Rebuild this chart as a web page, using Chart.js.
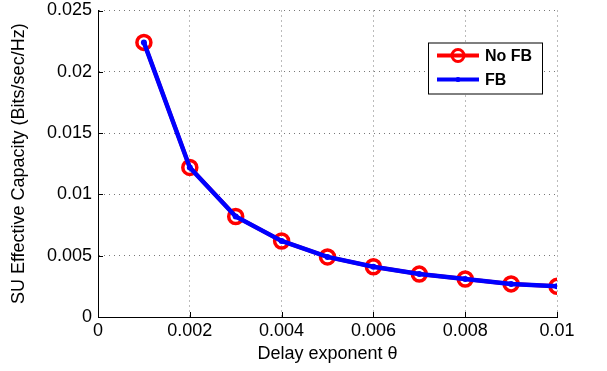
<!DOCTYPE html>
<html>
<head>
<meta charset="utf-8">
<script src="https://cdn.jsdelivr.net/npm/chart.js@4"></script>
<style>
  html, body { margin: 0; padding: 0; background: #fff; }
  #wrap { width: 607px; height: 371px; }
</style>
</head>
<body>
<div id="wrap"><canvas id="capChart" width="607" height="371"></canvas></div>
<script>
// delay exponent theta
const theta = [0.001, 0.002, 0.003, 0.004, 0.005, 0.006, 0.007, 0.008, 0.009, 0.01];
// SU effective capacity, without / with feedback
const noFB = [0.0224, 0.0122, 0.0082, 0.0062, 0.0049, 0.0041, 0.0035, 0.0031, 0.0027, 0.0025];
const withFB = [0.0224, 0.0122, 0.0082, 0.0062, 0.0049, 0.0041, 0.0035, 0.0031, 0.0027, 0.0025];
const seriesNames = ["No FB", "FB"];

const FONT = "'Liberation Sans', Arial, sans-serif";

function pts(xs, ys) {
  return xs.map((x, i) => ({ x: x, y: ys[i] }));
}

function fmt(v) {
  return String(+Number(v).toFixed(4));
}

// legend box drawn inside the plot, top right
const boxLegend = {
  id: 'boxLegend',
  afterDraw(chart) {
    const c = chart.ctx, a = chart.chartArea;
    const x0 = a.right - 129, y0 = a.top + 32, w = 114, h = 51;
    c.save();
    c.fillStyle = '#fff';
    c.fillRect(x0, y0, w, h);
    c.strokeStyle = '#000';
    c.lineWidth = 1;
    c.strokeRect(x0 + 0.5, y0 + 0.5, w, h);
    const ds = chart.data.datasets;
    const rows = [y0 + 13, y0 + 37];
    ds.forEach((d, i) => {
      const y = rows[i];
      c.strokeStyle = d.borderColor;
      c.lineWidth = 4;
      c.beginPath();
      c.moveTo(x0 + 9, y);
      c.lineTo(x0 + 51, y);
      c.stroke();
      if (i === 0) {
        c.lineWidth = 3;
        c.beginPath();
        c.arc(x0 + 30, y, 6, 0, Math.PI * 2);
        c.stroke();
      } else {
        c.fillStyle = d.borderColor;
        c.beginPath();
        c.arc(x0 + 30, y, 2.5, 0, Math.PI * 2);
        c.fill();
      }
      c.fillStyle = '#000';
      c.font = 'bold 16px ' + FONT;
      c.textBaseline = 'middle';
      c.fillText(d.label, x0 + 57, y + 1);
    });
    c.restore();
  }
};

new Chart(document.getElementById('capChart').getContext('2d'), {
  type: 'line',
  data: {
    datasets: [
      {
        label: seriesNames[0],
        data: pts(theta, noFB),
        order: 2,
        borderColor: '#ff0000',
        backgroundColor: 'rgba(0,0,0,0)',
        borderWidth: 4,
        pointRadius: 7,
        pointBorderWidth: 3.5,
        pointBorderColor: '#ff0000',
        pointBackgroundColor: 'rgba(0,0,0,0)',
        tension: 0
      },
      {
        label: seriesNames[1],
        data: pts(theta, withFB),
        order: 1,
        borderColor: '#0000ff',
        backgroundColor: '#0000ff',
        borderWidth: 4.5,
        pointRadius: 3,
        pointBorderWidth: 0,
        pointBackgroundColor: '#0000ff',
        tension: 0
      }
    ]
  },
  options: {
    responsive: false,
    animation: false,
    layout: { padding: { top: 9, right: 50, left: 0, bottom: 0 } },
    plugins: {
      legend: { display: false },
      tooltip: { enabled: false }
    },
    scales: {
      x: {
        type: 'linear',
        min: 0,
        max: 0.01,
        afterFit(s) { s.height = 54; },
        ticks: {
          stepSize: 0.002,
          color: '#000',
          font: { family: FONT, size: 18 },
          padding: 3,
          maxRotation: 0,
          callback: fmt
        },
        grid: {
          color: '#777',
          drawTicks: false,
          lineWidth: 1
        },
        border: { color: '#000', width: 1, dash: [1, 4] },
        title: {
          display: true,
          text: 'Delay exponent θ',
          color: '#000',
          font: { family: FONT, size: 18 },
          padding: { top: 0, bottom: 6 }
        }
      },
      y: {
        min: 0,
        max: 0.025,
        afterFit(s) {
          s.width = 98;
          s.paddingTop = 0;
          s.paddingBottom = 0;
        },
        ticks: {
          stepSize: 0.005,
          color: '#000',
          font: { family: FONT, size: 18 },
          padding: 6,
          callback: fmt
        },
        grid: {
          color: '#777',
          drawTicks: false,
          lineWidth: 1
        },
        border: { color: '#000', width: 1, dash: [1, 4] },
        title: {
          display: true,
          text: 'SU Effective Capacity (Bits/sec/Hz)',
          color: '#000',
          font: { family: FONT, size: 18 },
          padding: { top: 8, bottom: 0 }
        }
      }
    }
  },
  plugins: [boxLegend, {
    id: 'solidAxes',
    beforeInit(chart) {
      // dotted grid lines like the source figure
      ['x', 'y'].forEach(k => {
        chart.options.scales[k].grid.borderDash = [1, 3];
      });
    },
    beforeDatasetsDraw(chart) {
      // solid left and bottom axis lines with inward ticks, as in the source figure
      const c = chart.ctx, a = chart.chartArea;
      const xs = chart.scales.x, ys = chart.scales.y;
      c.save();
      c.strokeStyle = '#000';
      c.lineWidth = 1;
      c.beginPath();
      c.moveTo(a.left + 0.5, a.top);
      c.lineTo(a.left + 0.5, a.bottom + 0.5);
      c.lineTo(a.right, a.bottom + 0.5);
      c.stroke();
      c.beginPath();
      xs.ticks.forEach(t => {
        const px = Math.round(xs.getPixelForValue(t.value)) + 0.5;
        c.moveTo(px, a.bottom);
        c.lineTo(px, a.bottom - 5);
      });
      ys.ticks.forEach(t => {
        const py = Math.round(ys.getPixelForValue(t.value)) + 0.5;
        c.moveTo(a.left, py);
        c.lineTo(a.left + 5, py);
      });
      c.stroke();
      c.restore();
    }
  }]
});
</script>
</body>
</html>
